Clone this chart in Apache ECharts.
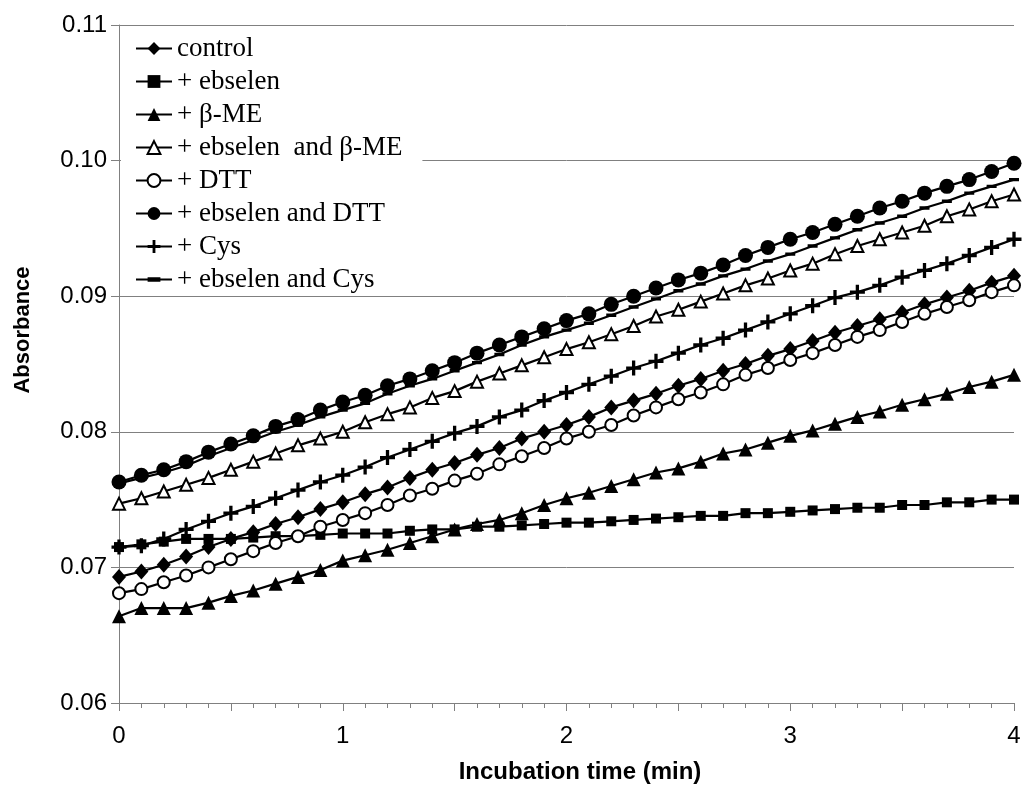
<!DOCTYPE html>
<html>
<head>
<meta charset="utf-8">
<script src="https://cdn.jsdelivr.net/npm/echarts@6/dist/echarts.min.js"></script>
<style>
html,body{margin:0;padding:0;background:#fff;}
#chart{width:1026px;height:808px;}
</style>
</head>
<body>
<div id="chart"></div>
<script>
const times = [0, 0.1, 0.2, 0.3, 0.4, 0.5, 0.6, 0.7, 0.8, 0.9, 1.0,
  1.1, 1.2, 1.3, 1.4, 1.5, 1.6, 1.7, 1.8, 1.9, 2.0,
  2.1, 2.2, 2.3, 2.4, 2.5, 2.6, 2.7, 2.8, 2.9, 3.0,
  3.1, 3.2, 3.3, 3.4, 3.5, 3.6, 3.7, 3.8, 3.9, 4.0];

const seriesNames = ['control', '+ ebselen', '+ \u03b2-ME', '+ ebselen  and \u03b2-ME',
  '+ DTT', '+ ebselen and DTT', '+ Cys', '+ ebselen and Cys'];

const control = [0.0693, 0.0697, 0.0702, 0.0708, 0.0715, 0.0721, 0.0726, 0.0732, 0.0737, 0.0743, 0.0748,
  0.0754, 0.0759, 0.0766, 0.0772, 0.0777, 0.0783, 0.0788, 0.0795, 0.0800, 0.0805,
  0.0811, 0.0818, 0.0823, 0.0828, 0.0834, 0.0839, 0.0845, 0.0850, 0.0856, 0.0861,
  0.0867, 0.0873, 0.0878, 0.0883, 0.0888, 0.0894, 0.0899, 0.0904, 0.0910, 0.0915];

const ebselen = [0.0715, 0.0717, 0.0719, 0.0721, 0.0721, 0.0721, 0.0722, 0.0723, 0.0723, 0.0724, 0.0725,
  0.0725, 0.0725, 0.0727, 0.0728, 0.0728, 0.0730, 0.0730, 0.0731, 0.0732, 0.0733,
  0.0733, 0.0734, 0.0735, 0.0736, 0.0737, 0.0738, 0.0738, 0.0740, 0.0740, 0.0741,
  0.0742, 0.0743, 0.0744, 0.0744, 0.0746, 0.0746, 0.0748, 0.0748, 0.0750, 0.0750];

const betaME = [0.0664, 0.0670, 0.0670, 0.0670, 0.0674, 0.0679, 0.0683, 0.0688, 0.0693, 0.0698, 0.0705,
  0.0709, 0.0713, 0.0718, 0.0723, 0.0728, 0.0732, 0.0735, 0.0740, 0.0746, 0.0751,
  0.0755, 0.0760, 0.0765, 0.0770, 0.0773, 0.0778, 0.0784, 0.0787, 0.0792, 0.0797,
  0.0801, 0.0806, 0.0811, 0.0815, 0.0820, 0.0824, 0.0828, 0.0833, 0.0837, 0.0842];

const ebselenBetaME = [0.0747, 0.0751, 0.0756, 0.0761, 0.0766, 0.0772, 0.0778, 0.0784, 0.0790, 0.0795, 0.0800,
  0.0807, 0.0813, 0.0818, 0.0825, 0.0830, 0.0837, 0.0843, 0.0849, 0.0855, 0.0861,
  0.0866, 0.0872, 0.0878, 0.0885, 0.0890, 0.0896, 0.0902, 0.0908, 0.0913, 0.0919,
  0.0924, 0.0931, 0.0937, 0.0942, 0.0947, 0.0952, 0.0959, 0.0964, 0.0970, 0.0975];

const dtt = [0.0681, 0.0684, 0.0689, 0.0694, 0.0700, 0.0706, 0.0712, 0.0718, 0.0723, 0.0730, 0.0735,
  0.0740, 0.0746, 0.0753, 0.0758, 0.0764, 0.0769, 0.0776, 0.0782, 0.0788, 0.0795,
  0.0800, 0.0805, 0.0812, 0.0818, 0.0824, 0.0829, 0.0835, 0.0842, 0.0847, 0.0853,
  0.0858, 0.0864, 0.0870, 0.0875, 0.0881, 0.0887, 0.0892, 0.0897, 0.0903, 0.0908];

const ebselenDTT = [0.0763, 0.0768, 0.0772, 0.0778, 0.0785, 0.0791, 0.0797, 0.0804, 0.0809, 0.0816, 0.0822,
  0.0827, 0.0834, 0.0839, 0.0845, 0.0851, 0.0858, 0.0864, 0.0870, 0.0876, 0.0882,
  0.0887, 0.0894, 0.0900, 0.0906, 0.0912, 0.0917, 0.0923, 0.0930, 0.0936, 0.0942,
  0.0947, 0.0953, 0.0959, 0.0965, 0.0970, 0.0976, 0.0981, 0.0986, 0.0992, 0.0998];

const cys = [0.0715, 0.0716, 0.0721, 0.0728, 0.0734, 0.0740, 0.0745, 0.0751, 0.0757, 0.0763, 0.0768,
  0.0774, 0.0781, 0.0787, 0.0793, 0.0799, 0.0804, 0.0811, 0.0816, 0.0823, 0.0829,
  0.0835, 0.0841, 0.0847, 0.0852, 0.0858, 0.0864, 0.0869, 0.0875, 0.0881, 0.0887,
  0.0893, 0.0899, 0.0903, 0.0908, 0.0914, 0.0919, 0.0924, 0.0930, 0.0936, 0.0942];

const ebselenCys = [0.0762, 0.0766, 0.0770, 0.0775, 0.0782, 0.0788, 0.0794, 0.0800, 0.0805, 0.0811, 0.0816,
  0.0821, 0.0828, 0.0834, 0.0839, 0.0845, 0.0851, 0.0857, 0.0864, 0.0870, 0.0875,
  0.0880, 0.0886, 0.0892, 0.0898, 0.0904, 0.0909, 0.0915, 0.0920, 0.0926, 0.0931,
  0.0937, 0.0943, 0.0949, 0.0954, 0.0959, 0.0965, 0.0970, 0.0976, 0.0981, 0.0986];

const yTickLabels = ['0.06', '0.07', '0.08', '0.09', '0.10', '0.11'];
const xTickLabels = ['0', '1', '2', '3', '4'];

const PLUS = 'path://M3.9,0H6.1V3.9H10V6.1H6.1V10H3.9V6.1H0V3.9H3.9Z';
const DASH = 'path://M0,0h0.01v0.01h-0.01Z M0,3.3H10V6.7H0Z M10,10h-0.01v-0.01h0.01Z';

const styles = [
  {symbol: 'diamond', size: [14, 16], border: 0},
  {symbol: 'rect', size: 10, border: 0},
  {symbol: 'triangle', size: 14, border: 0},
  {symbol: 'emptyTriangle', size: 12, border: 2.5},
  {symbol: 'emptyCircle', size: 12, border: 2.6},
  {symbol: 'circle', size: 15, border: 0},
  {symbol: PLUS, size: 15, border: 0},
  {symbol: DASH, size: 10, border: 0}
];
const allValues = [control, ebselen, betaME, ebselenBetaME, dtt, ebselenDTT, cys, ebselenCys];

const series = allValues.map((vals, k) => ({
  name: seriesNames[k],
  type: 'line',
  data: times.map((t, i) => [t, vals[i]]),
  symbol: styles[k].symbol,
  symbolSize: styles[k].size,
  showSymbol: true,
  showAllSymbol: true,
  animation: false,
  lineStyle: {color: '#000', width: 2.2},
  itemStyle: {color: '#000', borderColor: '#000', borderWidth: styles[k].border},
  emphasis: {disabled: true},
  z: 2 + k
}));

const chart = echarts.init(document.getElementById('chart'), null, {renderer: 'canvas'});
chart.setOption({
  backgroundColor: '#fff',
  animation: false,
  grid: {left: 119, right: 12, top: 25, bottom: 105, containLabel: false},
  xAxis: {
    type: 'value', min: 0, max: 4, interval: 0.5,
    axisLine: {show: true, lineStyle: {color: '#808080', width: 1}},
    axisTick: {show: true, length: 8, lineStyle: {color: '#808080'}},
    minorTick: {show: true, splitNumber: 5, length: 5, lineStyle: {color: '#808080'}},
    splitLine: {show: false},
    axisLabel: {
      margin: 21, color: '#000', fontSize: 24, fontFamily: "'Liberation Sans', Arial, sans-serif",
      formatter: v => { const i = Math.round(v); return Math.abs(v - i) < 1e-9 ? xTickLabels[i] : ''; }
    }
  },
  yAxis: {
    type: 'value', min: 0.06, max: 0.11, interval: 0.01,
    axisLine: {show: true, lineStyle: {color: '#808080', width: 1}},
    axisTick: {show: true, length: 8, lineStyle: {color: '#808080'}},
    splitLine: {show: true, lineStyle: {color: '#808080', width: 1}},
    axisLabel: {
      margin: 12, color: '#000', fontSize: 24, fontFamily: "'Liberation Sans', Arial, sans-serif",
      formatter: v => yTickLabels[Math.round((v - 0.06) / 0.01)]
    }
  },
  legend: {
    orient: 'vertical', left: 121, top: 28,
    padding: [7, 20, 0, 14],
    backgroundColor: '#fff',
    itemWidth: 36, itemHeight: 16, itemGap: 6,
    selectedMode: false,
    data: seriesNames,
    textStyle: {color: '#000', fontSize: 27, lineHeight: 26, fontFamily: "'Liberation Serif', 'Times New Roman', serif"},
    z: 20
  },
  graphic: [
    {type: 'text', x: 23, y: 330, rotation: Math.PI / 2,
     style: {text: 'Absorbance', fill: '#000', font: "bold 22px 'Liberation Sans', Arial, sans-serif", align: 'center', verticalAlign: 'middle'}},
    {type: 'text', x: 580, y: 772,
     style: {text: 'Incubation time (min)', fill: '#000', font: "bold 24px 'Liberation Sans', Arial, sans-serif", align: 'center', verticalAlign: 'middle'}}
  ],
  series: series
});
</script>
</body>
</html>
